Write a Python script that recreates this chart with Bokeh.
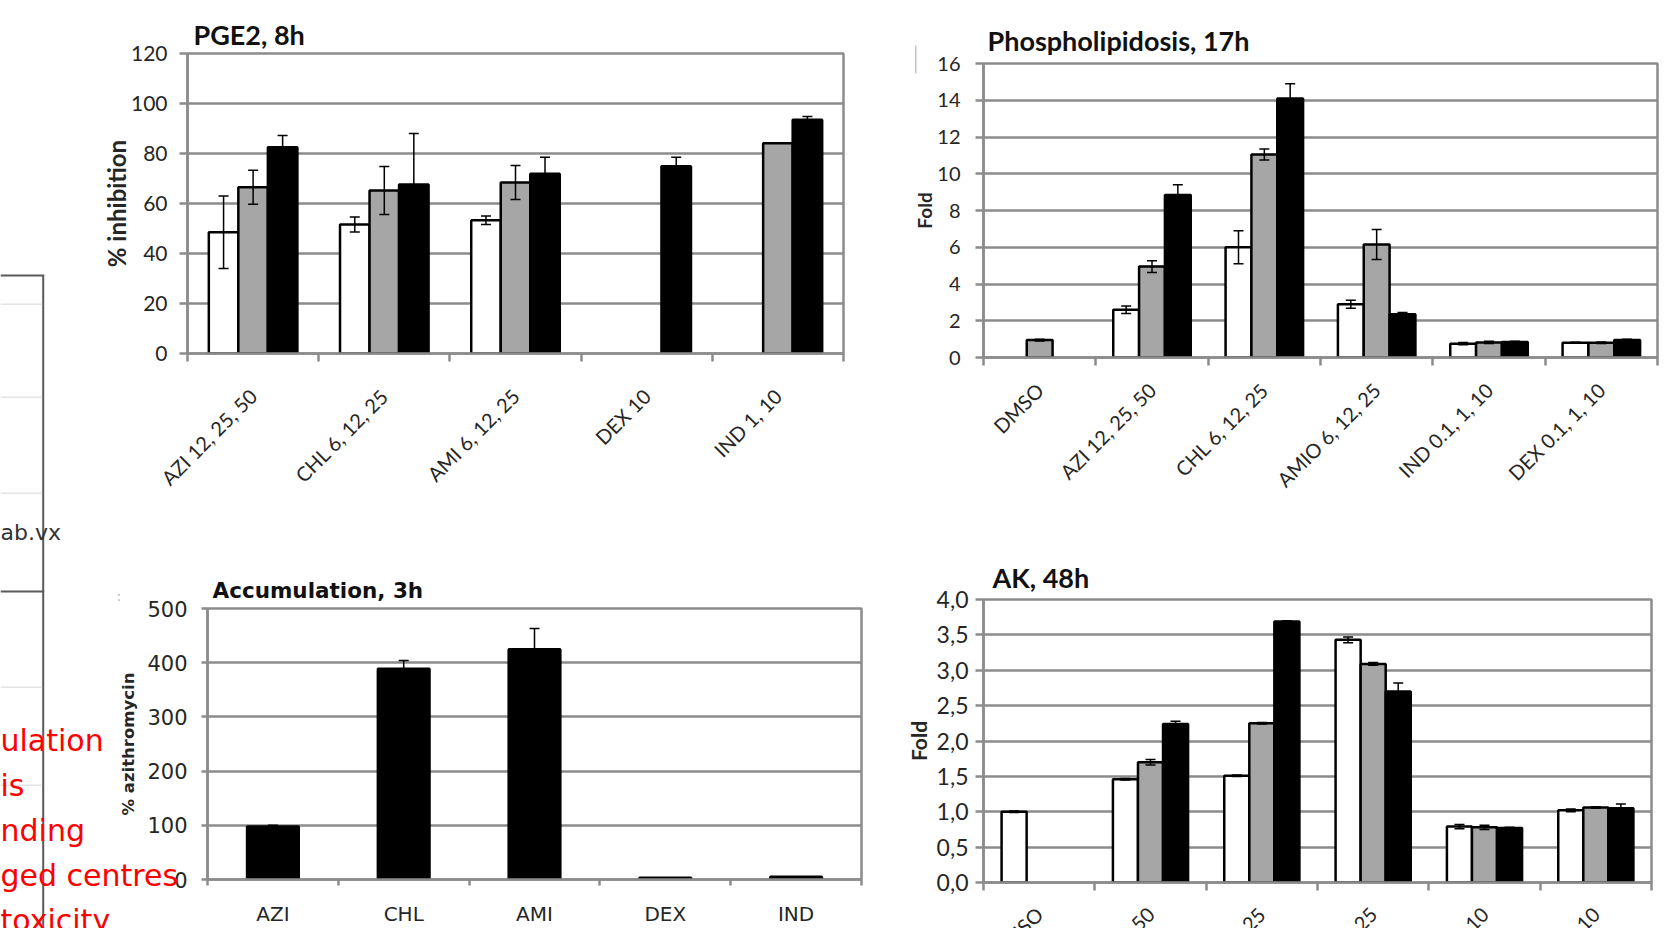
import math
from bokeh.plotting import figure
from bokeh.models import (ColumnDataSource, Range1d, FixedTicker, Whisker, TeeHead, GridBox)
from bokeh.layouts import column
from bokeh.core.properties import value
from bokeh.embed import file_html
from bokeh.resources import INLINE

NAN = float("nan")

# ---------------- data ----------------
pge2_categories = ["AZI 12, 25, 50", "CHL 6, 12, 25", "AMI 6, 12, 25", "DEX 10", "IND 1, 10"]
pge2_low = [48.5, 51.6, 53.3, NAN, NAN]
pge2_low_err = [14.5, 3.0, 1.7, NAN, NAN]
pge2_mid = [66.5, 65.2, 68.4, NAN, 84.1]
pge2_mid_err = [6.8, 9.6, 6.8, NAN, NAN]
pge2_high = [82.5, 67.6, 71.9, 74.9, 93.5]
pge2_high_err = [4.7, 20.4, 6.6, 3.6, 1.3]
pge2_yticks = [0, 20, 40, 60, 80, 100, 120]

pl_categories = ["DMSO", "AZI 12, 25, 50", "CHL 6, 12, 25", "AMIO 6, 12, 25",
                 "IND 0.1, 1, 10", "DEX 0.1, 1, 10"]
pl_low = [NAN, 2.6, 6.0, 2.9, 0.75, 0.8]
pl_low_err = [NAN, 0.2, 0.9, 0.22, 0.06, 0.03]
pl_mid = [0.95, 4.95, 11.05, 6.15, 0.82, 0.8]
pl_mid_err = [0.05, 0.32, 0.3, 0.82, 0.06, 0.04]
pl_high = [NAN, 8.85, 14.1, 2.35, 0.85, 0.95]
pl_high_err = [NAN, 0.55, 0.8, 0.1, 0.03, 0.04]
pl_yticks = [0, 2, 4, 6, 8, 10, 12, 14, 16]

acc_categories = ["AZI", "CHL", "AMI", "DEX", "IND"]
acc_values = [98, 389, 425, 3, 5]
acc_err = [2, 15, 38, NAN, NAN]
acc_yticks = [0, 100, 200, 300, 400, 500]

ak_categories = ["DMSO", "AZI 12, 25, 50", "CHL 6, 12, 25", "AMIO 6, 12, 25",
                 "IND 0.1, 1, 10", "DEX 0.1, 1, 10"]
ak_low = [1.0, 1.46, 1.51, 3.43, 0.79, 1.02]
ak_low_err = [0.01, 0.01, 0.01, 0.04, 0.03, 0.02]
ak_mid = [NAN, 1.70, 2.25, 3.09, 0.78, 1.06]
ak_mid_err = [NAN, 0.04, 0.01, 0.02, 0.03, 0.01]
ak_high = [NAN, 2.24, 3.69, 2.70, 0.77, 1.05]
ak_high_err = [NAN, 0.04, 0.01, 0.12, 0.01, 0.06]
ak_yticks = [0, 0.5, 1, 1.5, 2, 2.5, 3, 3.5, 4]

# clipped text of the neighbouring slide panel
side_texts = ["ulation", "is", "nding", "ged centres", "toxicity"]
side_fragment = "ab.vx"

# ---------------- style / layout constants ----------------
GRID = "#8c8c8c"
FILLS = ["#ffffff", "#a6a6a6", "#000000"]
LATO = "Lato"
DJV = "DejaVu Sans"
TXT = "#262626"

COL0_W, COL1_W = 890, 774
ROW0_H, ROW1_H = 540, 388
PAGE_H = ROW0_H + ROW1_H

# frame boxes (left, right, top, bottom) in page pixels
F_PGE2 = (187, 843, 53, 353)
F_PL = (983, 1657, 63, 357)
F_ACC = (207, 861, 608, 883)
F_AK = (983, 1651, 599, 882)


def base_figure(title, frame, cell_x, cell_y, cell_w, cell_h, ncat, ymax, yticks, font):
    l, r, t, b = frame
    p = figure(width=cell_w, height=cell_h, x_range=Range1d(0, ncat), y_range=Range1d(0, ymax),
               min_border_left=l - cell_x, min_border_right=cell_x + cell_w - r,
               min_border_top=t - cell_y, min_border_bottom=cell_y + cell_h - b,
               output_backend="svg", toolbar_location=None, title=title)
    p.background_fill_color = "white"
    p.border_fill_color = "white"
    p.outline_line_color = GRID
    p.outline_line_width = 2.5
    p.xgrid.visible = False
    yt = FixedTicker(ticks=yticks, minor_ticks=[])
    p.yaxis.ticker = yt
    p.ygrid.ticker = yt
    p.ygrid.grid_line_color = GRID
    p.ygrid.grid_line_width = 2.5
    centers = [i + 0.5 for i in range(ncat)]
    bounds = list(range(ncat + 1))
    p.xaxis.ticker = FixedTicker(ticks=centers, minor_ticks=bounds)
    for ax in (p.xaxis[0], p.yaxis[0]):
        ax.axis_line_color = GRID
        ax.axis_line_width = 2.5
        ax.major_tick_line_color = GRID
        ax.major_tick_line_width = 2.5
        ax.minor_tick_line_color = GRID
        ax.minor_tick_line_width = 2.5
        ax.major_label_text_font = font
        ax.major_label_text_color = TXT
        ax.axis_label_text_font = font
        ax.axis_label_text_font_style = "bold"
        ax.axis_label_text_color = TXT
    p.xaxis.major_tick_out = 0
    p.xaxis.major_tick_in = 0
    p.xaxis.minor_tick_out = 8
    p.xaxis.minor_tick_in = 0
    p.yaxis.major_tick_out = 8
    p.yaxis.major_tick_in = 0
    p.yaxis.minor_tick_out = 0
    p.yaxis.minor_tick_in = 0
    p.title.text_font = font
    p.title.text_font_style = "bold"
    p.title.text_color = "#111111"
    p.title.align = "left"
    return p, centers


def add_bars(p, series, errs, bw):
    n = len(series)
    for k, (vals, ev) in enumerate(zip(series, errs)):
        off = (k - (n - 1) / 2.0) * bw
        xs, tops, wx, lo, hi = [], [], [], [], []
        for i, v in enumerate(vals):
            if math.isnan(v):
                continue
            xs.append(i + 0.5 + off)
            tops.append(v)
            if not math.isnan(ev[i]):
                wx.append(i + 0.5 + off)
                lo.append(v - ev[i])
                hi.append(v + ev[i])
        color = FILLS[k] if n > 1 else "#000000"
        p.vbar(x=xs, top=tops, bottom=0, width=bw, fill_color=color,
               line_color="black", line_width=2.5)
        if wx:
            src = ColumnDataSource(dict(x=wx, lower=lo, upper=hi))
            p.add_layout(Whisker(source=src, base="x", lower="lower", upper="upper",
                                 dimension="height", line_color="black", line_width=1.5,
                                 level="annotation",
                                 upper_head=TeeHead(size=10, line_color="black", line_width=1.5),
                                 lower_head=TeeHead(size=10, line_color="black", line_width=1.5)))


def overlay(width, height):
    o = figure(width=width, height=height, x_range=Range1d(0, width), y_range=Range1d(height, 0),
               min_border=0, output_backend="svg", toolbar_location=None,
               x_axis_location=None, y_axis_location=None)
    for g in o.grid:
        g.visible = False
    o.outline_line_color = None
    o.background_fill_alpha = 0
    o.border_fill_alpha = 0
    return o


def aligned_x(frame_lo, frame_hi, d_lo, d_hi, canvas_len):
    k = (d_hi - d_lo) / float(frame_hi - frame_lo)
    return Range1d(d_lo - frame_lo * k, d_hi + (canvas_len - frame_hi) * k)


def aligned_y(frame_top, frame_bottom, d_lo, d_hi, canvas_len):
    k = (d_hi - d_lo) / float(frame_bottom - frame_top)
    return Range1d(d_lo - (canvas_len - frame_bottom) * k, d_hi + frame_top * k)


# ---------------- PGE2, 8h ----------------
p1, c1 = base_figure("PGE2, 8h", F_PGE2, 0, 0, COL0_W, ROW0_H, len(pge2_categories), 120,
                     pge2_yticks, LATO)
add_bars(p1, [pge2_low, pge2_mid, pge2_high], [pge2_low_err, pge2_mid_err, pge2_high_err], 0.225)
p1.xaxis.major_label_overrides = {c: t for c, t in zip(c1, pge2_categories)}
p1.xaxis.major_label_orientation = math.pi / 4
p1.xaxis.major_label_text_font_size = "20px"
p1.xaxis.major_label_standoff = 31
p1.yaxis.major_label_text_font_size = "21px"
p1.yaxis.major_label_standoff = 12
p1.yaxis.axis_label = "% inhibition"
p1.yaxis.axis_label_text_font_size = "24px"
p1.yaxis.axis_label_standoff = -3
p1.title.text_font_size = "27px"
p1.title.offset = 6
p1.title.standoff = 6

# ---------------- Phospholipidosis, 17h ----------------
p2, c2 = base_figure("Phospholipidosis, 17h", F_PL, COL0_W, 0, COL1_W, ROW0_H, len(pl_categories), 16,
                     pl_yticks, LATO)
add_bars(p2, [pl_low, pl_mid, pl_high], [pl_low_err, pl_mid_err, pl_high_err], 0.23)
p2.xaxis.major_label_text_font_size = "0px"
p2.xaxis.major_label_overrides = {c: "" for c in c2}
p2.yaxis.major_label_text_font_size = "20px"
p2.yaxis.major_label_standoff = 15
p2.yaxis.axis_label = "Fold"
p2.yaxis.axis_label_text_font_size = "19px"
p2.yaxis.axis_label_standoff = -2
p2.title.text_font_size = "27px"
p2.title.offset = 4
p2.title.standoff = 14

# ---------------- Accumulation, 3h ----------------
p3, c3 = base_figure("Accumulation, 3h", F_ACC, 0, ROW0_H, COL0_W, ROW1_H, len(acc_categories), 500,
                     acc_yticks, DJV)
add_bars(p3, [acc_values], [acc_err], 0.395)
p3.xaxis.major_label_overrides = {c: t for c, t in zip(c3, acc_categories)}
p3.xaxis.major_label_text_font_size = "20px"
p3.xaxis.major_label_standoff = 16
p3.xaxis.minor_tick_out = 6
p3.yaxis.major_tick_out = 6
p3.yaxis.major_label_text_font_size = "21px"
p3.yaxis.major_label_standoff = 14
p3.yaxis.axis_label = "% azithromycin"
p3.yaxis.axis_label_text_font_size = "16.5px"
p3.yaxis.axis_label_standoff = 6
p3.title.text_font_size = "21.5px"
p3.title.offset = 5
p3.title.standoff = 12

# ---------------- AK, 48h ----------------
p4, c4 = base_figure("AK, 48h", F_AK, COL0_W, ROW0_H, COL1_W, ROW1_H, len(ak_categories), 4,
                     ak_yticks, LATO)
add_bars(p4, [ak_low, ak_mid, ak_high], [ak_low_err, ak_mid_err, ak_high_err], 0.225)
p4.xaxis.major_label_text_font_size = "0px"
p4.xaxis.major_label_overrides = {c: "" for c in c4}
p4.yaxis.major_label_overrides = {t: ("%.1f" % t).replace(".", ",") for t in ak_yticks}
p4.yaxis.major_label_text_font_size = "23px"
p4.yaxis.major_label_standoff = 7
p4.yaxis.axis_label = "Fold"
p4.yaxis.axis_label_text_font_size = "21px"
p4.yaxis.axis_label_standoff = 3
p4.title.text_font_size = "27px"
p4.title.offset = 9
p4.title.standoff = 12

# ---------------- overlay, left column (neighbouring slide fragment) ----------------
ov_left = overlay(COL0_W, PAGE_H)
ov_left.quad(left=[41.7], right=[43.7], top=[275], bottom=[PAGE_H], fill_color="#5a5a5a", line_color=None)
ov_left.quad(left=[0, 0], right=[43.7, 43.7], top=[274, 590], bottom=[276, 592],
             fill_color="#5a5a5a", line_color=None)
faint_y = [303, 396, 492, 686, 784]
ov_left.quad(left=[0] * len(faint_y), right=[41.7] * len(faint_y), top=faint_y,
             bottom=[y + 1.5 for y in faint_y], fill_color="#e4e4e4", line_color=None)
ov_left.text(x=[0], y=[532], text=[side_fragment], text_font=value(DJV), text_font_size="22px",
             text_color="#333333", text_baseline="middle", text_align="left")
ov_left.text(x=[0] * len(side_texts), y=[740, 785, 830, 875, 920], text=side_texts,
             text_font=value(DJV), text_font_size="30px", text_color="#ff0000",
             text_baseline="middle", text_align="left")
ov_left.text(x=[116], y=[595], text=[":"], text_font=value(DJV), text_font_size="14px",
             text_color="#b4b4b4", text_baseline="middle", text_align="left")

# ---------------- overlay, right column (rotated category labels) ----------------
ov_right = overlay(COL1_W, PAGE_H)
ov_right.extra_x_ranges = {
    "pl_x": aligned_x(F_PL[0] - COL0_W, F_PL[1] - COL0_W, 0, len(pl_categories), COL1_W),
    "ak_x": aligned_x(F_AK[0] - COL0_W, F_AK[1] - COL0_W, 0, len(ak_categories), COL1_W),
}
ov_right.extra_y_ranges = {
    "pl_y": aligned_y(F_PL[2], F_PL[3], 0, 16, PAGE_H),
    "ak_y": aligned_y(F_AK[2], F_AK[3], 0, 4, PAGE_H),
}
pl_label_y = -29 * 16.0 / (F_PL[3] - F_PL[2])
ak_label_y = -28 * 4.0 / (F_AK[3] - F_AK[2])
ov_right.text(x=c2, y=[pl_label_y] * len(c2), text=pl_categories, angle=math.pi / 4,
              text_align="right", text_baseline="middle", text_font=value(LATO),
              text_font_size="20px", text_color=TXT, x_range_name="pl_x", y_range_name="pl_y")
ov_right.text(x=c4, y=[ak_label_y] * len(c4), text=ak_categories, angle=math.pi / 4,
              text_align="right", text_baseline="middle", text_font=value(LATO),
              text_font_size="20px", text_color=TXT, x_range_name="ak_x", y_range_name="ak_y")
ov_right.quad(left=[24.5], right=[26], top=[45], bottom=[73], fill_color="#c4c4c4", line_color=None)

grid = GridBox(children=[
    (column(p1), 0, 0),
    (column(p2), 0, 1),
    (column(p3), 1, 0),
    (column(p4), 1, 1),
    (column(ov_left), 0, 0, 2, 1),
    (column(ov_right), 0, 1, 2, 1),
], spacing=0)

with open("out.html", "w") as f:
    f.write(file_html(grid, INLINE))
